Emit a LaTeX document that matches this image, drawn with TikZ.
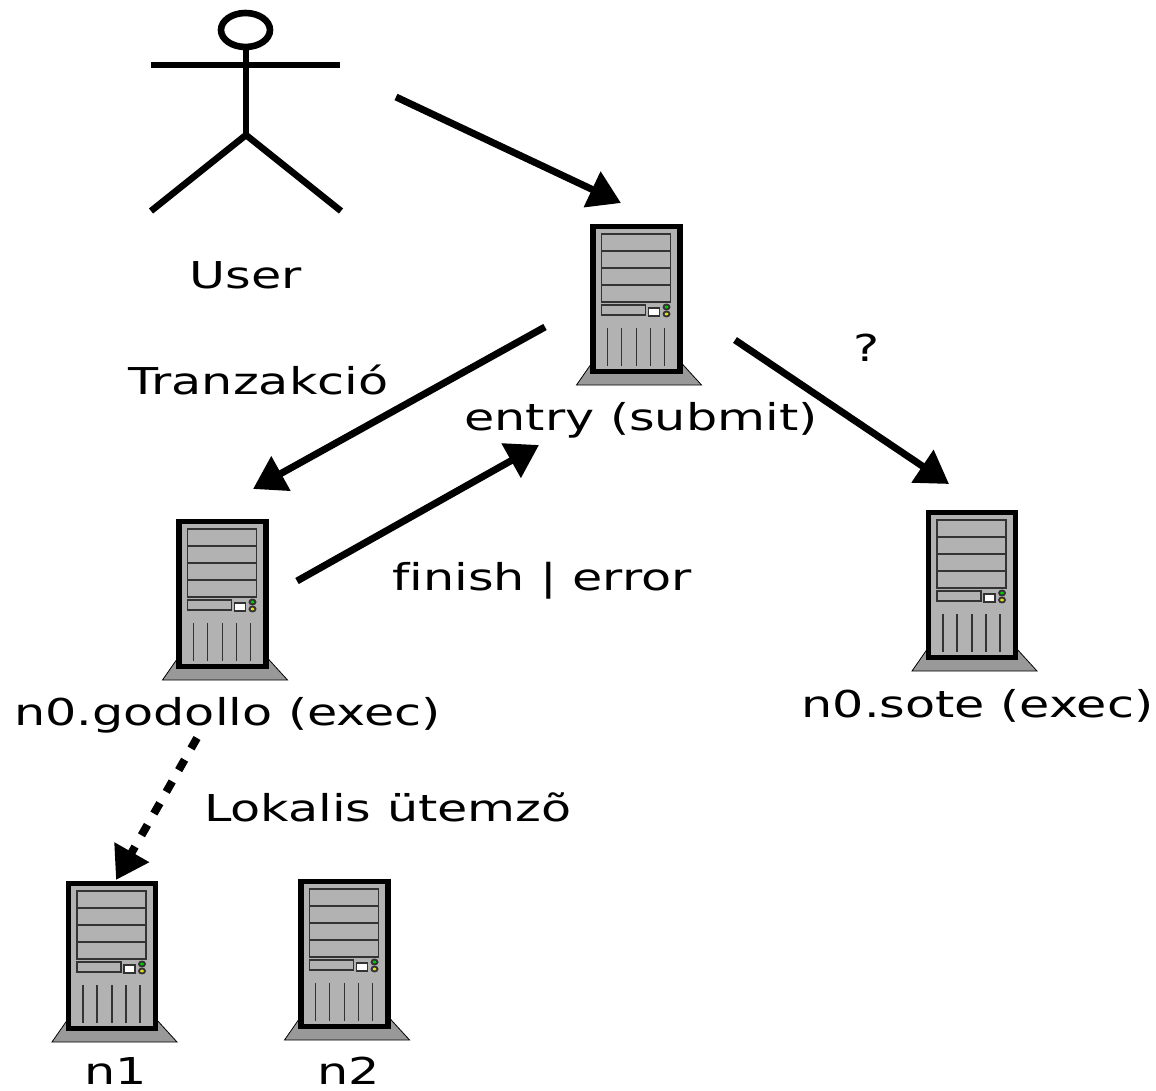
\documentclass[tikz,border=0pt]{standalone}
\usepackage{fontspec}
\setmainfont[FakeStretch=1.33, Ligatures=NoCommon]{DejaVu Sans}
\usetikzlibrary{arrows.meta}
\definecolor{boxgray}{gray}{0.7}
\definecolor{basegray}{gray}{0.6}
\tikzstyle{lbl}=[inner sep=0pt, font=\fontsize{18.5}{20}\selectfont]
\tikzstyle{conn}=[line width=3.5pt, -{Triangle[length=16pt, width=19pt]}]
\tikzstyle{stick}=[line width=3.3pt]
\tikzstyle{bay}=[draw=black!80, fill=boxgray, line width=0.9pt]
\newcommand{\server}[3]{
    \begin{scope}[shift={(#2, #3)}]
        \filldraw[fill=basegray, draw=black, line width=0.4pt] (-44, 138) -- (44, 138) -- (65, 161) -- (-60, 161) -- cycle;
        \node[draw=black, fill=boxgray, line width=2.6pt, minimum width=43.5pt, minimum height=72.5pt, inner sep=0pt] (#1) at (0, 75) {};
        \draw[bay] (-35, 10) rectangle (34, 78);
        \draw[bay] (-35, 27) -- (34, 27);
        \draw[bay] (-35, 44) -- (34, 44);
        \draw[bay] (-35, 61) -- (34, 61);
        \draw[bay] (-35, 81) rectangle (9, 91);
        \draw[bay, fill=white] (12, 84) rectangle (23, 92);
        \draw[bay, fill=green!80!black] (30, 83) ellipse (3 and 2.5);
        \draw[bay, fill=yellow!90!black] (30, 90) ellipse (3 and 2.5);
        \foreach \x in {-29, -15, 0, 14, 28}
            \draw[bay] (\x, 104) -- (\x, 142);
    \end{scope}
}
\begin{document}
\begin{tikzpicture}[x=0.5pt, y=-0.5pt]
    \useasboundingbox (0, 0) rectangle (1156, 1091);
    % user
    \draw[stick] (245.5, 30) ellipse (24.5 and 17);
    \draw[stick] (151, 65) -- (340, 65);
    \coordinate (hip) at (246, 135);
    \coordinate (neck) at (246, 47);
    \draw[stick] (neck) -- (hip);
    \draw[stick] (hip) -- (151, 211);
    \draw[stick] (hip) -- (341, 211);
    \node[lbl] (user) at (246, 275) {User};
    % servers
    \server{entry}{636.5}{224}
    \server{godollo}{222.5}{519}
    \server{sote}{972}{510}
    \server{none}{112}{881}
    \server{ntwo}{344.5}{879}
    % labels
    \node[lbl] (tran) at (258.5, 380) {Tranzakció};
    \node[lbl] (entrylbl) at (641, 420) {entry (submit)};
    \node[lbl] (qmark) at (867, 348) {?};
    \node[lbl] (finish) at (542, 581) {finish | error};
    \node[lbl] (godollolbl) at (227.5, 715) {n0.godollo (exec)};
    \node[lbl] (sotelbl) at (977.5, 706) {n0.sote (exec)};
    \node[lbl] (local) at (388, 807) {Lokalis ütemzõ};
    \node[lbl] (nonelbl) at (116, 1071) {n1};
    \node[lbl] (ntwolbl) at (349, 1071) {n2};
    % connectors
    \coordinate (a1) at (396, 97);
    \coordinate (a2) at (621, 203);
    \coordinate (b1) at (545, 327);
    \coordinate (b2) at (253, 489);
    \coordinate (c1) at (297, 581);
    \coordinate (c2) at (539, 445);
    \coordinate (d1) at (735, 340);
    \coordinate (d2) at (949, 484);
    \coordinate (e1) at (197, 738);
    \coordinate (e2) at (116, 880);
    \draw[conn] (a1) -- (a2);
    \draw[conn] (b1) -- (b2);
    \draw[conn] (c1) -- (c2);
    \draw[conn] (d1) -- (d2);
    \draw[conn, line width=4pt, dash pattern=on 6pt off 6.5pt] (e1) -- (e2);
\end{tikzpicture}
\end{document}
